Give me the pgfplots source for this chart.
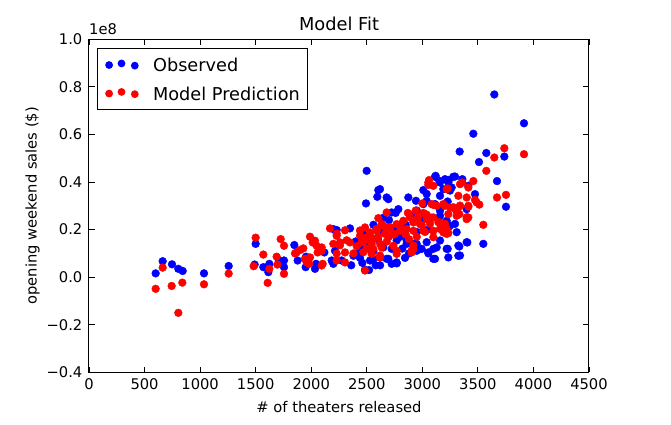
\documentclass[border=0pt]{standalone}
\usepackage{fontspec}
\setmainfont{DejaVu Sans}
\usepackage{pgfplots}
\usepackage{pgfplotstable}
\pgfplotsset{compat=1.18}
\pgfplotstableread{
x y
600 0.016
663 0.067
747 0.054
804 0.035
843 0.026
1035 0.016
1257 0.047
1491 0.053
1500 0.140
1569 0.042
1614 0.021
1623 0.056
1710 0.070
1755 0.070
1755 0.042
1848 0.135
1878 0.070
1953 0.086
1950 0.042
2034 0.035
1959 0.077
2043 0.056
2118 0.104
2184 0.070
2214 0.111
2199 0.056
2274 0.070
2229 0.198
2349 0.205
2199 0.202
2439 0.081
2529 0.070
2544 0.104
2619 0.083
2484 0.031
2493 0.310
2499 0.447
2604 0.366
2595 0.338
2679 0.335
2694 0.328
2559 0.077
2694 0.077
2769 0.058
2724 0.056
2844 0.081
2979 0.119
3054 0.100
3114 0.077
3099 0.119
3219 0.119
3339 0.091
3324 0.133
3399 0.147
3309 0.189
3234 0.210
2769 0.154
2859 0.140
2949 0.140
2874 0.335
2943 0.321
3009 0.366
3159 0.342
3159 0.398
3234 0.398
3009 0.307
2784 0.286
2724 0.272
3159 0.258
3219 0.237
3249 0.216
3309 0.279
3399 0.286
3129 0.125
3405 0.146
3054 0.104
3099 0.077
3234 0.083
3324 0.090
2769 0.062
2679 0.077
2649 0.125
2724 0.119
2919 0.140
2949 0.111
2859 0.153
2619 0.370
3114 0.422
3204 0.412
3279 0.422
3039 0.321
3114 0.307
3159 0.279
3120 0.426
3153 0.405
3240 0.409
3294 0.423
3360 0.412
3648 0.768
3915 0.647
3459 0.603
3336 0.528
3576 0.522
3510 0.484
3738 0.507
3672 0.404
3753 0.296
3549 0.140
3333 0.129
3228 0.119
3474 0.349
3414 0.384
3228 0.318
3189 0.370
3264 0.377
3249 0.364
3039 0.350
3159 0.154
3039 0.147
2994 0.119
3294 0.224
3219 0.210
2400 0.150
2450 0.120
2480 0.180
2520 0.140
2560 0.220
2600 0.160
2650 0.190
2700 0.240
2750 0.200
2800 0.170
2850 0.220
2900 0.260
2950 0.190
3000 0.240
3050 0.200
2880 0.100
2820 0.120
2560 0.110
2420 0.100
2380 0.090
2360 0.050
2460 0.060
2520 0.030
2580 0.050
2620 0.050
2650 0.250
2760 0.270
2950 0.280
3080 0.250
}\observed
\pgfplotstableread{
x y
600 -0.049
663 0.040
744 -0.037
804 -0.150
840 -0.023
1035 -0.030
1257 0.015
1482 0.046
1500 0.166
1569 0.095
1608 -0.024
1623 0.035
1689 0.086
1695 0.053
1725 0.160
1755 0.132
1755 0.014
1854 0.100
1899 0.114
1929 0.121
1989 0.170
2013 0.146
2049 0.132
1959 0.062
1980 0.056
2058 0.104
2094 0.125
2103 0.056
2034 0.153
2169 0.205
2229 0.174
1869 0.104
1944 0.077
1989 0.083
2094 0.111
2094 0.049
2199 0.140
2259 0.146
2304 0.104
2349 0.146
2229 0.070
2304 0.062
2484 0.209
2529 0.188
2589 0.195
2634 0.223
2604 0.248
2439 0.174
2499 0.167
2454 0.146
2544 0.140
2484 0.028
2559 0.119
2634 0.125
2679 0.272
2679 0.195
3054 0.398
3099 0.384
3339 0.391
3414 0.377
3324 0.342
3399 0.335
3219 0.370
3084 0.307
3129 0.300
3189 0.307
3249 0.293
3324 0.293
3414 0.300
3234 0.265
3309 0.258
3399 0.244
2649 0.216
2709 0.209
2769 0.223
2829 0.237
2889 0.251
2919 0.230
2979 0.223
3039 0.244
3099 0.251
3159 0.230
3219 0.202
2799 0.195
2739 0.181
2859 0.202
2919 0.195
3009 0.195
3099 0.195
3189 0.188
2919 0.119
2904 0.104
2739 0.132
2769 0.111
2619 0.083
3738 0.542
3915 0.517
3648 0.503
3576 0.447
3060 0.408
3054 0.388
3459 0.404
3360 0.398
3228 0.373
3753 0.346
3672 0.335
3549 0.220
3489 0.314
3414 0.296
3414 0.251
3099 0.304
3204 0.300
3294 0.286
3333 0.265
3474 0.325
3513 0.305
3279 0.294
3339 0.301
3399 0.252
3144 0.231
3069 0.224
3039 0.263
2994 0.219
3024 0.190
3099 0.168
3159 0.203
3234 0.185
3204 0.224
2229 0.099
2259 0.134
2319 0.155
2304 0.197
2229 0.183
2469 0.105
2544 0.098
2619 0.091
2484 0.154
2439 0.196
2529 0.182
2589 0.203
2664 0.182
2709 0.210
2769 0.098
2904 0.112
2919 0.133
3219 0.182
2560 0.160
2600 0.170
2700 0.170
2750 0.180
2800 0.220
2850 0.180
2880 0.160
2950 0.170
2680 0.150
2620 0.140
2410 0.130
2380 0.100
2500 0.120
2960 0.250
3010 0.270
2940 0.280
2870 0.270
3000 0.310
}\predicted
\begin{document}
\begin{tikzpicture}
\path[use as bounding box] (-89bp,-52.7bp) rectangle (582bp,372.3bp);
\begin{axis}[
  at={(0,0)}, anchor=south west,
  scale only axis, width=500bp, height=333bp,
  clip=false,
  xmin=0, xmax=4500, ymin=-0.4, ymax=1.0,
  xtick={0,500,1000,1500,2000,2500,3000,3500,4000,4500},
  xticklabels={0,500,1000,1500,2000,2500,3000,3500,4000,4500},
  ytick={-0.4,-0.2,0,0.2,0.4,0.6,0.8,1.0},
  yticklabels={−0.4,−0.2,0.0,0.2,0.4,0.6,0.8,1.0},
  tick align=inside, major tick length=5.6bp,
  tick style={black, line width=0.8bp},
  axis line style={black, line width=1bp},
  ticklabel style={font=\fontsize{14.7bp}{17bp}\selectfont, inner sep=0pt},
  xticklabel style={anchor=north, yshift=-6bp},
  yticklabel style={anchor=east, xshift=-6.5bp},
  label style={font=\fontsize{14.7bp}{17bp}\selectfont, inner sep=0pt},
  xlabel={\# of theaters released},
  ylabel={opening weekend sales (\$)},
  xlabel style={at={(axis description cs:0.5,-0.1201)}, anchor=base},
  ylabel style={at={(axis description cs:-0.105,0.5)}, anchor=base, rotate=0},
  legend style={at={(axis description cs:0,1)}, anchor=north west, xshift=8.3bp, yshift=-9bp,
    draw=black, line width=1bp, inner xsep=7.3bp, inner ysep=2bp,
    font=\fontsize{17.7bp}{20bp}\selectfont,
    nodes={inner sep=0pt, text height=20.75bp, text depth=7.75bp},
    row sep=0pt, column sep=0pt},
  legend cell align=left,
]
\addplot[only marks, mark=*, mark size=3.9bp, color=blue, mark options={draw=none, fill=blue},
  legend image code/.code={
    \fill[blue, draw=none] (0bp,0bp) circle (3.9bp);
    \fill[blue, draw=none] (12.4bp,1.6bp) circle (3.9bp);
    \fill[blue, draw=none] (25.7bp,-0.6bp) circle (3.9bp);
    \path[draw=none, fill=none] (-4bp,-3bp) rectangle (44bp,3bp);
  }] table[x=x,y=y] {\observed};
\addlegendentry{Observed}
\addplot[only marks, mark=*, mark size=3.9bp, color=red, mark options={draw=none, fill=red},
  legend image code/.code={
    \fill[red, draw=none] (0bp,0bp) circle (3.9bp);
    \fill[red, draw=none] (12.4bp,1.6bp) circle (3.9bp);
    \fill[red, draw=none] (25.7bp,-0.6bp) circle (3.9bp);
    \path[draw=none, fill=none] (-4bp,-3bp) rectangle (44bp,3bp);
  }] table[x=x,y=y] {\predicted};
\addlegendentry{Model Prediction}
\node[anchor=base west, inner sep=0pt, font=\fontsize{14.7bp}{17bp}\selectfont] at (axis description cs:0,1.0144) {1e8};
\node[anchor=base, inner sep=0pt, font=\fontsize{17.8bp}{21bp}\selectfont] at (axis description cs:0.5,1.0258) {Model Fit};
\end{axis}
\end{tikzpicture}
\end{document}
